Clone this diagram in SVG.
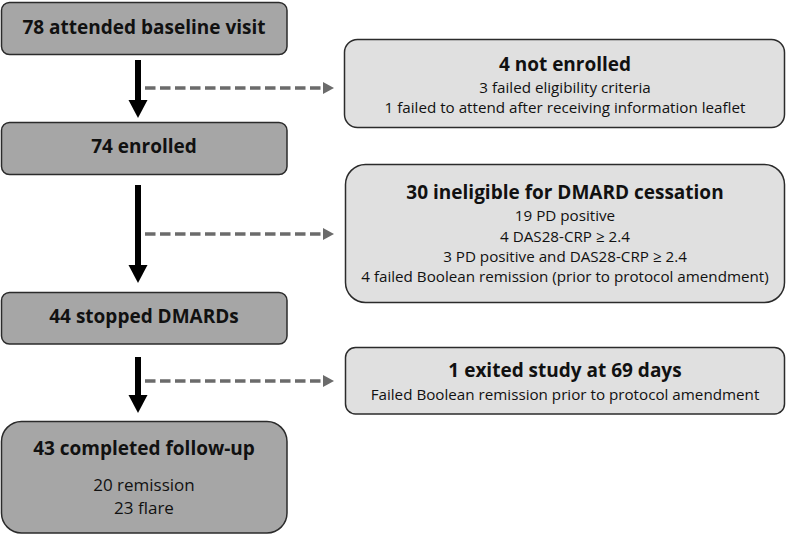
<svg xmlns="http://www.w3.org/2000/svg" width="787" height="536" viewBox="0 0 787 536">
<style>
.main{fill:#a6a6a6;stroke:#2b2b2b;stroke-width:1.5}
.side{fill:#e0e0e0;stroke:#2b2b2b;stroke-width:1.5}
text{font-family:"Open Sans","Liberation Sans",sans-serif;fill:#111;text-anchor:middle}
.t{font-weight:bold;font-size:19px}
.s{font-size:15.2px}
.m{font-size:17px}
.solid{stroke:#000;stroke-width:6;fill:none}
.dash{stroke:#6b6b6b;stroke-width:3.5;stroke-dasharray:10.5 4.5;fill:none}
</style>
<defs>
<marker id="ah" markerUnits="userSpaceOnUse" markerWidth="20" markerHeight="20" refX="0" refY="9.5" orient="auto" viewBox="0 0 20 20"><path d="M0,0 L18,9.5 L0,19 Z" fill="#000"/></marker>
<marker id="dh" markerUnits="userSpaceOnUse" markerWidth="14" markerHeight="14" refX="0" refY="6" orient="auto" viewBox="0 0 14 14"><path d="M0,0 L11,6 L0,12 Z" fill="#6b6b6b"/></marker>
</defs>
<g id="connectors">
<line class="solid" x1="138" y1="60" x2="138" y2="100" marker-end="url(#ah)"/>
<line class="solid" x1="138" y1="185" x2="138" y2="265" marker-end="url(#ah)"/>
<line class="solid" x1="138" y1="357" x2="138" y2="395" marker-end="url(#ah)"/>
<line class="dash" x1="145" y1="88" x2="323" y2="88" marker-end="url(#dh)"/>
<line class="dash" x1="145" y1="234" x2="323" y2="234" marker-end="url(#dh)"/>
<line class="dash" x1="145" y1="381" x2="323" y2="381" marker-end="url(#dh)"/>
</g>
<g id="n1">
<rect class="main" x="1.5" y="2.5" width="285.5" height="52" rx="8"/>
<text class="t" x="144" y="34">78 attended baseline visit</text>
</g>
<g id="n2">
<rect class="side" x="344.5" y="39.5" width="440" height="88" rx="13"/>
<text class="t" x="565" y="71">4 not enrolled</text>
<text class="s" x="565" y="93">3 failed eligibility criteria</text>
<text class="s" x="565" y="113">1 failed to attend after receiving information leaflet</text>
</g>
<g id="n3">
<rect class="main" x="1.5" y="122.5" width="285.5" height="52" rx="8"/>
<text class="t" x="144" y="153">74 enrolled</text>
</g>
<g id="n4">
<rect class="side" x="345.5" y="164.5" width="439" height="138" rx="20"/>
<text class="t" x="565" y="199">30 ineligible for DMARD cessation</text>
<text class="s" x="565" y="221">19 PD positive</text>
<text class="s" x="565" y="242">4 DAS28-CRP ≥ 2.4</text>
<text class="s" x="565" y="262">3 PD positive and DAS28-CRP ≥ 2.4</text>
<text class="s" x="565" y="282">4 failed Boolean remission (prior to protocol amendment)</text>
</g>
<g id="n5">
<rect class="main" x="1.5" y="292.5" width="285.5" height="51.5" rx="8"/>
<text class="t" x="144" y="323">44 stopped DMARDs</text>
</g>
<g id="n6">
<rect class="side" x="345.5" y="347.5" width="439" height="66.5" rx="10"/>
<text class="t" x="565" y="377">1 exited study at 69 days</text>
<text class="s" x="565" y="400">Failed Boolean remission prior to protocol amendment</text>
</g>
<g id="n7">
<rect class="main" x="1.5" y="421.5" width="285.5" height="111.5" rx="20"/>
<text class="t" x="144" y="455">43 completed follow-up</text>
<text class="m" x="144" y="491">20 remission</text>
<text class="m" x="144" y="514">23 flare</text>
</g>
</svg>
